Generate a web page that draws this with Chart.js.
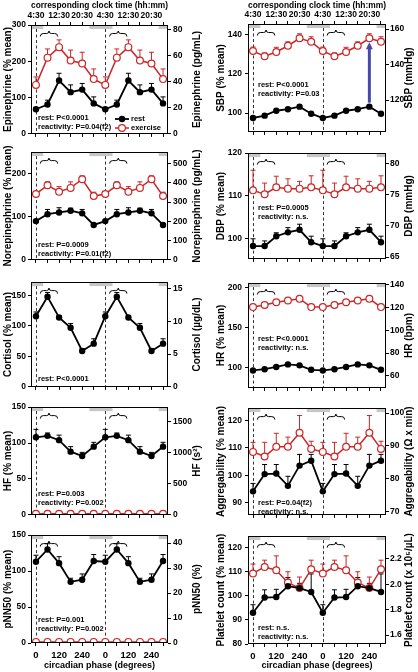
<!DOCTYPE html>
<html>
<head>
<meta charset="utf-8">
<script src="https://cdn.jsdelivr.net/npm/chart.js@4.4.1/dist/chart.umd.min.js"></script>
<style>
  html, body { margin: 0; padding: 0; background: #fff; }
  #fig { position: relative; width: 418px; height: 672px; overflow: hidden; }
  #fig canvas { position: absolute; }
</style>
</head>
<body>
<div id="fig"></div>
<script>
// x = sample index, one sample every 60 degrees, cycle plotted twice
const clockLabels = ['4:30', '', '12:30', '', '20:30', '', '4:30', '', '12:30', '', '20:30', ''];
const phaseLabels = ['0', '', '120', '', '240', '', '0', '', '120', '', '240', ''];
const sleepBands = [[-1.375, 0.625], [4.625, 6.625], [10.625, 12.625]];
const exerciseBraces = [[0.375, 1.875], [6.375, 7.875]];
const phaseStarts = [0, 6];

// Epinephrine
const epiRest = [68, 81, 147, 115, 122, 84, 68, 81, 147, 115, 122, 84];
const epiRestErr = [4, 12, 20, 20, 17, 18, 4, 12, 20, 20, 17, 18];
const epiEx = [135, 210, 239, 202, 194, 151, 135, 210, 239, 202, 194, 151];
const epiExErr = [22, 24, 20, 29, 31, 28, 22, 24, 20, 29, 31, 28];
const epiTicks = [0, 100, 200, 300];
const epiUnitTicks = [0, 20, 40, 60, 80];

// Norepinephrine
const neRest = [90, 106, 110, 114, 108, 81, 90, 106, 110, 114, 108, 81];
const neRestErr = [2, 11, 11, 6, 9, 2, 2, 11, 11, 6, 9, 2];
const neEx = [153, 173, 158, 167, 187, 148, 153, 173, 158, 167, 187, 148];
const neExErr = [3, 8, 12, 14, 8, 9, 3, 8, 12, 14, 8, 9];
const neTicks = [0, 100, 200];
const neUnitTicks = [0, 100, 200, 300, 400, 500];

// Cortisol
const cortRest = [116, 148, 114, 97, 59, 71, 116, 148, 114, 97, 59, 71];
const cortRestErr = [7, 7, 3, 7, 4, 8, 7, 7, 3, 7, 4, 8];
const cortTicks = [0, 50, 100, 150];
const cortUnitTicks = [0, 5, 10, 15];

// HF
const hfRest = [108, 110, 104, 88, 82, 95, 108, 110, 104, 88, 82, 95];
const hfRestErr = [11, 4, 7, 7, 5, 6, 11, 4, 7, 7, 5, 6];
const hfEx = [1.5, 1.5, 1.5, 1.5, 1.5, 1.5, 1.5, 1.5, 1.5, 1.5, 1.5, 1.5];
const hfExErr = [3, 3, 3, 3, 3, 3, 3, 3, 3, 3, 3, 3];
const hfTicks = [0, 50, 100, 150];
const hfUnitTicks = [0, 500, 1000, 1500];

// pNN50
const pnnRest = [113, 130, 111, 85, 88, 114, 113, 130, 111, 85, 88, 114];
const pnnRestErr = [9, 8, 9, 5, 8, 9, 9, 8, 9, 5, 8, 9];
const pnnEx = [1.5, 1.5, 1.5, 1.5, 1.5, 1.5, 1.5, 1.5, 1.5, 1.5, 1.5, 1.5];
const pnnExErr = [3, 3, 3, 3, 3, 3, 3, 3, 3, 3, 3, 3];
const pnnTicks = [0, 50, 100, 150];
const pnnUnitTicks = [0, 10, 20, 30, 40];

// SBP
const sbpRest = [97.5, 98.7, 101.2, 102, 103.3, 99.7, 97.5, 98.7, 101.2, 102, 103.3, 99.7];
const sbpRestErr = [0.6, 0.6, 0.6, 0.6, 0.6, 0.6, 0.6, 0.6, 0.6, 0.6, 0.6, 0.6];
const sbpEx = [131.7, 129, 131.2, 134.4, 138.2, 136.4, 131.7, 129, 131.2, 134.4, 138.2, 136.4];
const sbpExErr = [2, 1.7, 2.4, 2, 2.3, 2.6, 2, 1.7, 2.4, 2, 2.3, 2.6];
const sbpTicks = [100, 120, 140];
const sbpUnitTicks = [120, 140, 160];

// DBP
const dbpRest = [98.3, 98.3, 100.6, 101.5, 102.1, 99.2, 98.3, 98.3, 100.6, 101.5, 102.1, 99.2];
const dbpRestErr = [1.7, 1.2, 0.8, 1.1, 1.3, 1.4, 1.7, 1.2, 0.8, 1.1, 1.3, 1.4];
const dbpEx = [111.3, 110.4, 112, 111.7, 111.7, 112, 111.3, 110.4, 112, 111.7, 111.7, 112];
const dbpExErr = [4.7, 2.6, 2.6, 2.3, 1.7, 2.7, 4.7, 2.6, 2.6, 2.3, 1.7, 2.7];
const dbpTicks = [100, 110, 120];
const dbpUnitTicks = [65, 70, 75, 80];

// HR
const hrRest = [96.8, 98.4, 101.2, 104.4, 103.2, 97.6, 96.8, 98.4, 101.2, 104.4, 103.2, 97.6];
const hrRestErr = [1, 1, 1, 1, 1, 1, 1, 1, 1, 1, 1, 1];
const hrEx = [176, 178.6, 182, 184.3, 186.3, 176, 176, 178.6, 182, 184.3, 186.3, 176];
const hrExErr = [1.5, 1.5, 1.5, 1.5, 1.5, 1.5, 1.5, 1.5, 1.5, 1.5, 1.5, 1.5];
const hrTicks = [100, 150, 200];
const hrUnitTicks = [60, 80, 100, 120, 140];

// Aggregability
const aggRest = [94.1, 100.4, 100.6, 96.1, 103.5, 105.3, 94.1, 100.4, 100.6, 96.1, 103.5, 105.3];
const aggRestErr = [2.9, 3.5, 3.3, 3.5, 4.1, 2.3, 2.9, 3.5, 3.3, 3.5, 4.1, 2.3];
const aggEx = [108.5, 106.8, 110.4, 110.4, 115.5, 109.6, 108.5, 106.8, 110.4, 110.4, 115.5, 109.6];
const aggExErr = [3.5, 5.2, 4.9, 3.5, 6.3, 2.8, 3.5, 5.2, 4.9, 3.5, 6.3, 2.8];
const aggTicks = [90, 100, 110, 120];
const aggUnitTicks = [70, 80, 90, 100];

// Platelet count
const pltRest = [93, 99.3, 99.5, 104, 103.2, 101.6, 93, 99.3, 99.5, 104, 103.2, 101.6];
const pltRestErr = [3.3, 3.2, 3.2, 3.6, 2, 7.5, 3.3, 3.2, 3.2, 3.6, 2, 7.5];
const pltEx = [109.3, 112, 110.6, 105.5, 103.2, 111, 109.3, 112, 110.6, 105.5, 103.2, 111];
const pltExErr = [3.9, 2.8, 6, 4.5, 4.6, 3.8, 3.9, 2.8, 6, 4.5, 4.6, 3.8];
const pltTicks = [80, 90, 100, 110, 120];
const pltUnitTicks = [1.6, 1.8, 2.0, 2.2];

const RED = '#cc2626';
const FONT = '"Liberation Sans", Arial, sans-serif';
const X_MIN = -0.43, X_MAX = 11.43;

Chart.defaults.font.family = FONT;
Chart.defaults.color = '#000';

// column geometry: canvas left/width, left and right axis widths
const cols = [
  { left: 0, width: 209, yW: 31, uW: 41, titlePad: 2, tickPad: 2, uTickPad: 2, noteDx: 7, uTitleDx: 29 },
  { left: 209, width: 209, yW: 39, uW: 32, titlePad: 6.5, tickPad: 3, uTickPad: 1, noteDx: 10, uTitleDx: 23 }
];

const panels = [
  { col: 0, top: 25, bottom: 136, topAxis: true, title: 'Epinephrine (% mean)', uTitle: 'Epinephrine (pg/mL)',
    yMin: 0, yMax: 300, yTicks: epiTicks, uMin: 0, uMax: 83.2, uTicks: epiUnitTicks,
    rest: epiRest, restErr: epiRestErr, ex: epiEx, exErr: epiExErr,
    notes: ['rest: P<0.0001', 'reactivity: P=0.04(f2)'], noteY: 93, legend: true },
  { col: 0, top: 152, bottom: 262, title: 'Norepinephrine (% mean)', uTitle: 'Norepinephrine (pg/mL)',
    yMin: 0, yMax: 250, yTicks: neTicks, uMin: 0, uMax: 560, uTicks: neUnitTicks,
    rest: neRest, restErr: neRestErr, ex: neEx, exErr: neExErr,
    notes: ['rest: P=0.0009', 'reactivity: P=0.01(f2)'], noteY: 93 },
  { col: 0, top: 282, bottom: 389, title: 'Cortisol (% mean)', uTitle: 'Cortisol (µg/dL)',
    yMin: 0, yMax: 172, yTicks: cortTicks, uMin: 0, uMax: 16, uTicks: cortUnitTicks,
    rest: cortRest, restErr: cortRestErr,
    notes: ['rest: P<0.0001'], noteY: 97 },
  { col: 0, top: 407, bottom: 517, title: 'HF (% mean)', uTitle: 'HF (s²)',
    yMin: 0, yMax: 150, yTicks: hfTicks, uMin: 0, uMax: 1735, uTicks: hfUnitTicks,
    rest: hfRest, restErr: hfRestErr, ex: hfEx, exErr: hfExErr,
    notes: ['rest: P=0.003', 'reactivity: P=0.002'], noteY: 87 },
  { col: 0, top: 535, bottom: 643, bottomAxis: true, title: 'pNN50 (% mean)', uTitle: 'pNN50 (%)',
    yMin: 0, yMax: 150, yTicks: pnnTicks, uMin: 0, uMax: 43.2, uTicks: pnnUnitTicks,
    rest: pnnRest, restErr: pnnRestErr, ex: pnnEx, exErr: pnnExErr,
    notes: ['rest: P=0.001', 'reactivity: P=0.002'], noteY: 85 },
  { col: 1, top: 24, bottom: 135, topAxis: true, title: 'SBP (% mean)', uTitle: 'SBP (mmHg)',
    yMin: 90.4, yMax: 145.5, yTicks: sbpTicks, uMin: 102.1, uMax: 162.9, uTicks: sbpUnitTicks,
    rest: sbpRest, restErr: sbpRestErr, ex: sbpEx, exErr: sbpExErr,
    notes: ['rest: P<0.0001', 'reactivity: P=0.03'], noteY: 61, arrowAt: 10 },
  { col: 1, top: 152, bottom: 262, title: 'DBP (% mean)', uTitle: 'DBP (mmHg)',
    yMin: 95.3, yMax: 120, yTicks: dbpTicks, uMin: 64.7, uMax: 81.7, uTicks: dbpUnitTicks,
    rest: dbpRest, restErr: dbpRestErr, ex: dbpEx, exErr: dbpExErr,
    notes: ['rest: P=0.0005', 'reactivity: n.s.'], noteY: 55 },
  { col: 1, top: 282, bottom: 391, title: 'HR (% mean)', uTitle: 'HR (bpm)',
    yMin: 75, yMax: 206, yTicks: hrTicks, uMin: 49.5, uMax: 141.4, uTicks: hrUnitTicks,
    rest: hrRest, restErr: hrRestErr, ex: hrEx, exErr: hrExErr,
    notes: ['rest: P<0.0001', 'reactivity: n.s.'], noteY: 56 },
  { col: 1, top: 407, bottom: 518, title: 'Aggregability (% mean)', uTitle: 'Aggregability (Ω x min)',
    yMin: 85.5, yMax: 124.5, yTicks: aggTicks, uMin: 69, uMax: 101.5, uTicks: aggUnitTicks,
    rest: aggRest, restErr: aggRestErr, ex: aggEx, exErr: aggExErr,
    notes: ['rest: P=0.04(f2)', 'reactivity: n.s.'], noteY: 95 },
  { col: 1, top: 535, bottom: 644, bottomAxis: true, title: 'Platelet count (% mean)', uTitle: 'Platelet count (x 10⁵/µL)',
    yMin: 80, yMax: 124.8, yTicks: pltTicks, uMin: 1.53, uMax: 2.38, uTicks: pltUnitTicks, uDigits: 1,
    rest: pltRest, restErr: pltRestErr, ex: pltEx, exErr: pltExErr,
    notes: ['rest: n.s.', 'reactivity: n.s.'], noteY: 92 }
];

const pts = arr => arr.map((y, x) => ({ x, y }));
const bold = size => ({ family: FONT, size, weight: 'bold' });

function drawMarker(ctx, x, y, filled) {
  ctx.beginPath();
  ctx.arc(x, y, filled ? 3.2 : 3.4, 0, Math.PI * 2);
  if (filled) {
    ctx.fillStyle = '#000';
    ctx.fill();
  } else {
    ctx.fillStyle = '#fff';
    ctx.fill();
    ctx.lineWidth = 1.2;
    ctx.strokeStyle = RED;
    ctx.stroke();
  }
}

function decorPlugin(p, c) {
  return {
    id: 'decor',
    beforeDatasetsDraw(chart) {
      const { ctx, chartArea: a, scales } = chart;
      const xs = scales.x, ys = scales.y;
      ctx.save();
      // sleep periods
      ctx.fillStyle = '#c6c6c6';
      sleepBands.forEach(([s, e]) => {
        const x0 = Math.max(a.left, xs.getPixelForValue(s));
        const x1 = Math.min(a.right, xs.getPixelForValue(e));
        if (x1 > x0) ctx.fillRect(x0, a.top, x1 - x0, 4);
      });
      // phase 0 markers
      ctx.strokeStyle = '#333';
      ctx.lineWidth = 1;
      ctx.setLineDash([3, 2.5]);
      phaseStarts.forEach(v => {
        const x = Math.round(xs.getPixelForValue(v)) + 0.5;
        ctx.beginPath();
        ctx.moveTo(x, a.top + 4);
        ctx.lineTo(x, a.bottom);
        ctx.stroke();
      });
      ctx.setLineDash([]);
      // exercise braces
      ctx.strokeStyle = '#000';
      exerciseBraces.forEach(([s, e]) => {
        const x0 = xs.getPixelForValue(s), x1 = xs.getPixelForValue(e), xm = (x0 + x1) / 2;
        const yb = a.top + 8.5;
        ctx.beginPath();
        ctx.moveTo(x0, yb + 3);
        ctx.quadraticCurveTo(x0, yb, x0 + 3, yb);
        ctx.lineTo(xm - 2.5, yb);
        ctx.quadraticCurveTo(xm, yb, xm, yb - 2.5);
        ctx.quadraticCurveTo(xm, yb, xm + 2.5, yb);
        ctx.lineTo(x1 - 3, yb);
        ctx.quadraticCurveTo(x1, yb, x1, yb + 3);
        ctx.stroke();
      });
      // upper error bars
      chart.data.datasets.forEach((ds, i) => {
        const meta = chart.getDatasetMeta(i);
        ctx.strokeStyle = ds.borderColor;
        ctx.lineWidth = 1;
        meta.data.forEach((pt, j) => {
          const yTop = ys.getPixelForValue(ds.data[j].y + ds.errors[j]);
          ctx.beginPath();
          ctx.moveTo(pt.x, pt.y);
          ctx.lineTo(pt.x, yTop);
          ctx.moveTo(pt.x - 2.5, yTop);
          ctx.lineTo(pt.x + 2.5, yTop);
          ctx.stroke();
        });
      });
      // statistics notes
      ctx.fillStyle = '#000';
      ctx.font = 'bold 7.5px ' + FONT;
      ctx.textBaseline = 'middle';
      ctx.textAlign = 'left';
      p.notes.forEach((t, k) => ctx.fillText(t, a.left + c.noteDx, a.top + p.noteY + k * 8.5));
      ctx.restore();
    },
    afterDatasetsDraw(chart) {
      const { ctx, chartArea: a, scales } = chart;
      const xs = scales.x, ys = scales.y;
      ctx.save();
      // rest -> exercise arrow
      if (p.arrowAt !== undefined) {
        const x = xs.getPixelForValue(p.arrowAt);
        const y0 = ys.getPixelForValue(p.rest[p.arrowAt]) - 4;
        const y1 = ys.getPixelForValue(p.ex[p.arrowAt]) + 4;
        ctx.strokeStyle = '#4848aa';
        ctx.fillStyle = '#4848aa';
        ctx.lineWidth = 3;
        ctx.beginPath();
        ctx.moveTo(x, y0);
        ctx.lineTo(x, y1 + 6);
        ctx.stroke();
        ctx.beginPath();
        ctx.moveTo(x, y1);
        ctx.lineTo(x - 3.5, y1 + 7);
        ctx.lineTo(x + 3.5, y1 + 7);
        ctx.closePath();
        ctx.fill();
      }
      // legend
      if (p.legend) {
        const lx = a.left + 84, ly = a.top + 94;
        ctx.lineWidth = 1.8;
        ctx.strokeStyle = '#000';
        ctx.beginPath(); ctx.moveTo(lx, ly); ctx.lineTo(lx + 14, ly); ctx.stroke();
        drawMarker(ctx, lx + 7, ly, true);
        ctx.lineWidth = 1.5;
        ctx.strokeStyle = RED;
        ctx.beginPath(); ctx.moveTo(lx, ly + 9); ctx.lineTo(lx + 14, ly + 9); ctx.stroke();
        drawMarker(ctx, lx + 7, ly + 9, false);
        ctx.fillStyle = '#000';
        ctx.font = 'bold 7.5px ' + FONT;
        ctx.textBaseline = 'middle';
        ctx.textAlign = 'left';
        ctx.fillText('rest', lx + 16, ly);
        ctx.fillText('exercise', lx + 16, ly + 9);
      }
      // frame
      ctx.strokeStyle = '#000';
      ctx.lineWidth = 1;
      ctx.strokeRect(Math.round(a.left) + 0.5, Math.round(a.top) + 0.5,
        Math.round(a.right - a.left) - 1, Math.round(a.bottom - a.top) - 1);
      // right axis title, reading upwards like the left one
      ctx.translate(a.right + c.uTitleDx, (a.top + a.bottom) / 2);
      ctx.rotate(-Math.PI / 2);
      ctx.fillStyle = '#000';
      ctx.font = 'bold 10px ' + FONT;
      ctx.textAlign = 'center';
      ctx.textBaseline = 'middle';
      ctx.fillText(p.uTitle, 0, 0);
      ctx.restore();
    }
  };
}

const fig = document.getElementById('fig');

panels.forEach(p => {
  const c = cols[p.col];
  const topH = p.topAxis ? p.top : 7;
  const botH = p.bottomAxis ? 672 - p.bottom : 5;
  const h = topH + (p.bottom - p.top) + botH;
  const cv = document.createElement('canvas');
  cv.width = c.width;
  cv.height = h;
  cv.style.left = c.left + 'px';
  cv.style.top = (p.top - topH) + 'px';
  cv.style.width = c.width + 'px';
  cv.style.height = h + 'px';
  fig.appendChild(cv);

  const datasets = [{
    label: 'rest', data: pts(p.rest), errors: p.restErr,
    borderColor: '#000', borderWidth: 1.8,
    pointBackgroundColor: '#000', pointBorderColor: '#000', pointRadius: 3.2, pointBorderWidth: 0
  }];
  if (p.ex) {
    datasets.push({
      label: 'exercise', data: pts(p.ex), errors: p.exErr,
      borderColor: RED, borderWidth: 1.5,
      pointBackgroundColor: '#fff', pointBorderColor: RED, pointRadius: 3.4, pointBorderWidth: 1.2
    });
  }

  const indexTicks = s => { s.ticks = phaseLabels.map((_, i) => ({ value: i })); };
  const scales = {
    x: {
      type: 'linear', position: 'bottom', min: X_MIN, max: X_MAX,
      afterBuildTicks: indexTicks,
      afterFit: s => { s.height = botH; },
      ticks: { display: !!p.bottomAxis, autoSkip: false, maxRotation: 0, minRotation: 0, padding: 4,
        font: bold(9.5), color: '#000', callback: v => phaseLabels[v] },
      grid: { drawOnChartArea: false, tickLength: 3, color: '#000' },
      border: { display: false },
      title: { display: !!p.bottomAxis, text: 'circadian phase (degrees)', font: bold(9), color: '#000',
        padding: { top: 0, bottom: 1 } }
    },
    y: {
      position: 'left', min: p.yMin, max: p.yMax,
      afterBuildTicks: s => { s.ticks = p.yTicks.map(v => ({ value: v })); },
      afterFit: s => { s.width = c.yW; },
      ticks: { font: bold(8.5), color: '#000', padding: c.tickPad },
      grid: { drawOnChartArea: false, tickLength: 3, color: '#000' },
      border: { display: false },
      title: { display: true, text: p.title, font: bold(10), color: '#000', padding: { top: c.titlePad, bottom: 0 } }
    },
    y2: {
      position: 'right', min: p.uMin, max: p.uMax,
      afterBuildTicks: s => { s.ticks = p.uTicks.map(v => ({ value: v })); },
      afterFit: s => { s.width = c.uW; },
      ticks: { font: bold(8.5), color: '#000', padding: c.uTickPad,
        callback: v => p.uDigits ? v.toFixed(p.uDigits) : String(v) },
      grid: { drawOnChartArea: false, tickLength: 3, color: '#000' },
      border: { display: false }
    }
  };
  if (p.topAxis) {
    scales.xTop = {
      type: 'linear', position: 'top', min: X_MIN, max: X_MAX,
      afterBuildTicks: indexTicks,
      afterFit: s => { s.height = topH; },
      ticks: { autoSkip: false, maxRotation: 0, minRotation: 0, padding: 1,
        font: bold(8.5), color: '#000', callback: v => clockLabels[v] },
      grid: { drawOnChartArea: false, tickLength: 3, color: '#000' },
      border: { display: false },
      title: { display: true, text: 'corresponding clock time (hh:mm)', font: bold(9), color: '#000',
        padding: { top: 0, bottom: 0 } }
    };
  }

  new Chart(cv, {
    type: 'line',
    data: { datasets },
    options: {
      responsive: false,
      devicePixelRatio: 1,
      animation: false,
      layout: { padding: { top: p.topAxis ? 0 : 7, left: 0, right: 0, bottom: 0 } },
      plugins: { legend: { display: false }, tooltip: { enabled: false } },
      scales
    },
    plugins: [decorPlugin(p, c)]
  });
});
</script>
</body>
</html>
